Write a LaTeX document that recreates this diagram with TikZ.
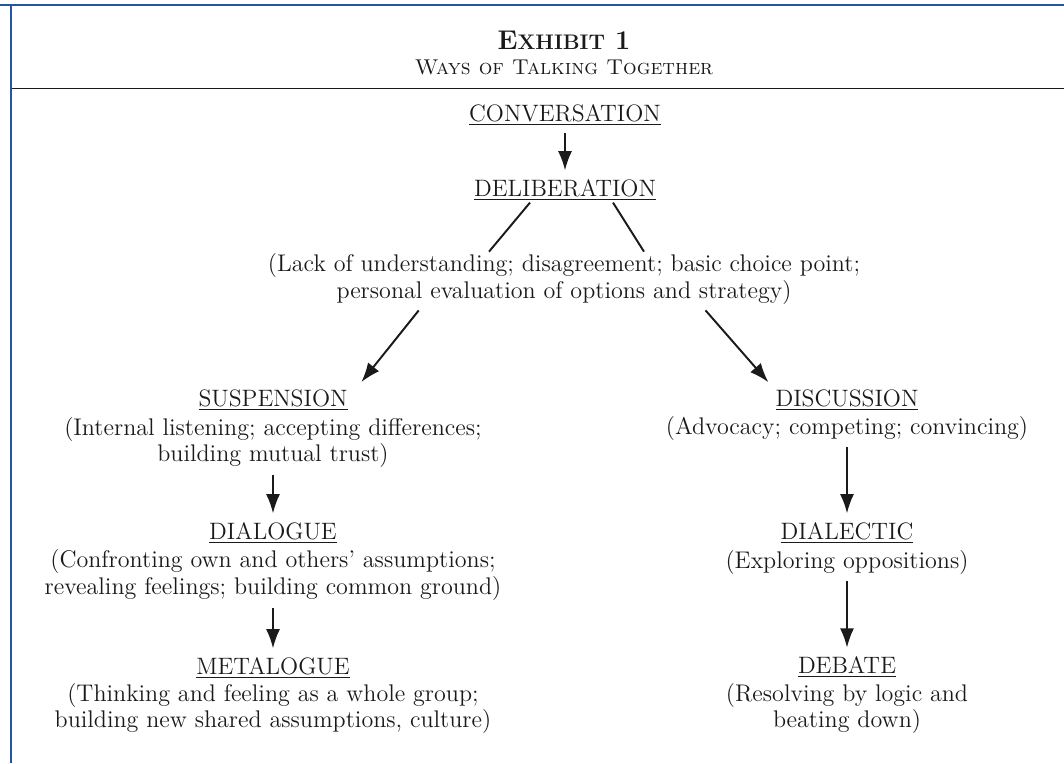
\documentclass[tikz,border=0pt]{standalone}
\usepackage{xcolor}
\usepackage{tikz}
\usetikzlibrary{arrows.meta, positioning, calc}
\definecolor{frameblue}{HTML}{2454A4}
\definecolor{inkblack}{HTML}{1A1A1A}

\begin{document}
\begin{tikzpicture}[
  heading/.style={inkblack, inner sep=1pt, font=\fontsize{13.5}{15}\selectfont},
  note/.style={inkblack, align=center, inner sep=1pt, font=\fontsize{13.7}{15}\selectfont},
  flow/.style={inkblack, line width=1.1pt, shorten <=3pt, shorten >=4pt, -{Latex[length=11pt, width=8pt]}},
  tie/.style={inkblack, line width=1.1pt}
]
  % Page area
  \useasboundingbox (0,0) rectangle (21.28,-15.26);
  \fill[white] (0,0) rectangle (21.28,-15.26);

  % Blue frame - top and left edge only
  \draw[frameblue, line width=1.2pt] (0,-0.1) -- (21.28,-0.1);
  \draw[frameblue, line width=1.2pt] (0.22,-0.1) -- (0.22,-15.26);

  % Title block
  \node[inkblack, font=\fontsize{15.4}{15}\selectfont\bfseries] (exhibit) at (11.28,-0.8) {E{\fontsize{12}{12}\selectfont XHIBIT} 1};
  \node[inkblack, font=\fontsize{12.2}{12}\selectfont\scshape] (waystitle) at (11.28,-1.34) {Ways of Talking Together};
  \draw[inkblack, line width=1pt] (0.24,-1.77) -- (21.28,-1.77);

  % Top of the tree
  \node[heading] (conversation) at (11.3,-2.3) {\underline{CONVERSATION}};
  \node[heading] (deliberation) at (11.3,-3.8) {\underline{DELIBERATION}};
  \node[note] (choice) at (11.28,-5.58) {(Lack of understanding; disagreement; basic choice point;\\personal evaluation of options and strategy)};

  \draw[flow] (conversation) -- (deliberation);
  \draw[tie] ([xshift=-0.7cm]deliberation.south) -- ([xshift=-1.5cm]choice.north);
  \draw[tie] ([xshift=0.96cm]deliberation.south) -- ([xshift=1.6cm]choice.north);

  % Left branch
  \node[heading] (suspension) at (5.46,-8.0) {\underline{SUSPENSION}};
  \node[note] (suspdesc) at (5.46,-8.85) {(Internal listening; accepting differences;\\building mutual trust)};
  \node[heading] (dialogue) at (5.46,-10.66) {\underline{DIALOGUE}};
  \node[note] (dialdesc) at (5.46,-11.5) {(Confronting own and others’ assumptions;\\revealing feelings; building common ground)};
  \node[heading] (metalogue) at (5.46,-13.36) {\underline{METALOGUE}};
  \node[note] (metadesc) at (5.46,-14.17) {(Thinking and feeling as a whole group;\\building new shared assumptions, culture)};

  % Right branch
  \node[heading] (discussion) at (16.94,-8.0) {\underline{DISCUSSION}};
  \node[note] (discdesc) at (16.94,-8.56) {(Advocacy; competing; convincing)};
  \node[heading] (dialectic) at (16.94,-10.66) {\underline{DIALECTIC}};
  \node[note] (dialecdesc) at (16.94,-11.24) {(Exploring oppositions)};
  \node[heading] (debate) at (16.94,-13.34) {\underline{DEBATE}};
  \node[note] (debatedesc) at (16.94,-14.17) {(Resolving by logic and\\beating down)};

  % Arrows
  \draw[flow] ([xshift=-2.84cm]choice.south) -- ([xshift=1.68cm]suspension.north);
  \draw[flow] ([xshift=2.76cm]choice.south) -- ([xshift=-1.48cm]discussion.north);
  \draw[flow] (suspdesc) -- (dialogue);
  \draw[flow] (dialdesc) -- (metalogue);
  \draw[flow] (discdesc) -- (dialectic);
  \draw[flow] (dialecdesc) -- (debate);
\end{tikzpicture}
\end{document}
